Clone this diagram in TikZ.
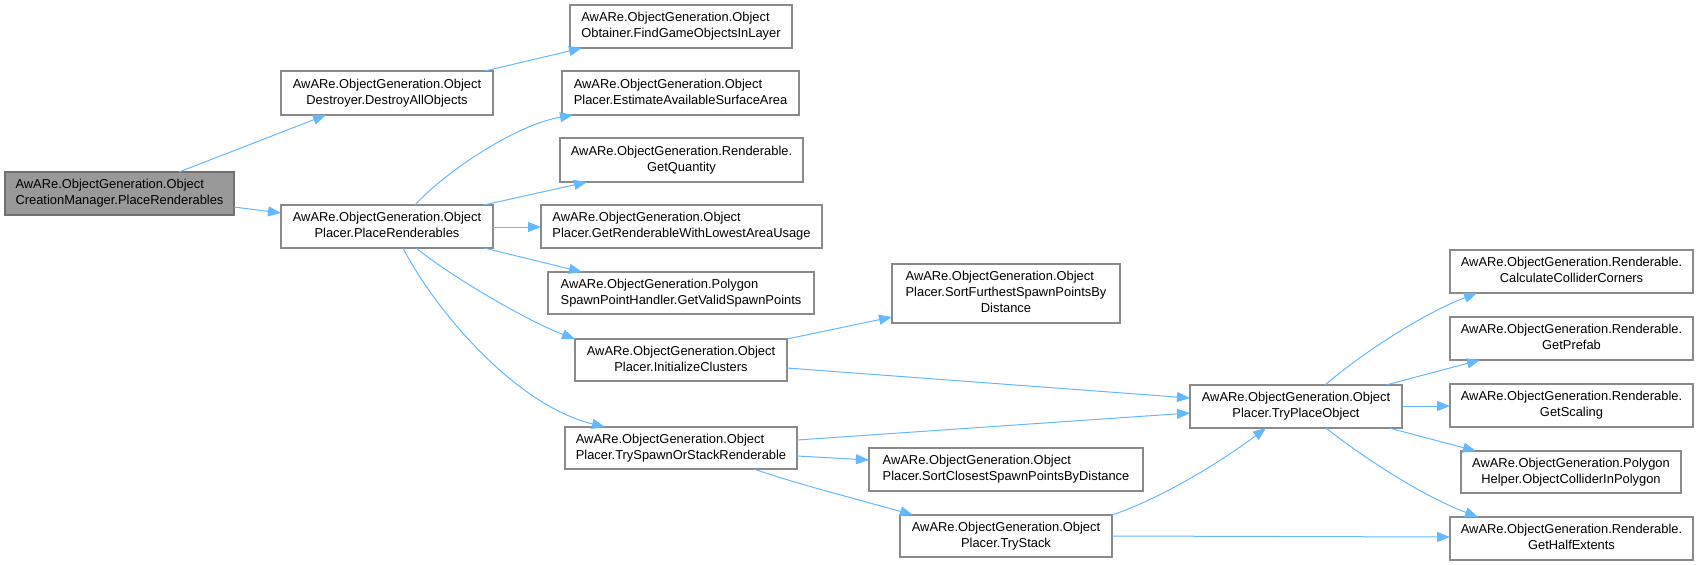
\documentclass[tikz,border=0pt]{standalone}
\usepackage{fontspec}
\setmainfont{Liberation Sans}
\usetikzlibrary{arrows.meta}
\definecolor{edgec}{HTML}{63B8FF}
\definecolor{bord}{HTML}{8A8A8A}
\definecolor{rootfill}{HTML}{999999}
\definecolor{rootbord}{HTML}{707070}
\newcommand{\twol}[2]{\begin{tabular}{@{}l@{}}#1\\\multicolumn{1}{@{}c@{}}{#2}\end{tabular}}
\newcommand{\threel}[3]{\begin{tabular}{@{}l@{}}#1\\#2\\\multicolumn{1}{@{}c@{}}{#3}\end{tabular}}
\newcommand{\bx}[7][]{\node[nbox,#1,minimum width={(#5-#3)*1pt},minimum height={(#6-#4)*1pt}] (#2) at ({(#3+#5)/2},{(#4+#6)/2}) {#7};}
\begin{document}
\begin{tikzpicture}[x=1pt,y=-1pt,
  nbox/.style={rectangle,draw=bord,line width=1.2pt,fill=white,inner sep=0pt,outer sep=0pt,
    font=\fontsize{12.9}{16}\selectfont,text=black},
  rootbox/.style={fill=rootfill,draw=rootbord},
  call/.style={draw=edgec,line width=1pt,-{Triangle[length=13pt,width=10pt]}}]
\useasboundingbox (0,0) rectangle (1698,565);
\bx[rootbox]{root}{5}{172}{234}{215}{\twol{AwARe.ObjectGeneration.Object}{CreationManager.PlaceRenderables}}
\bx{dest}{281}{71}{493}{115}{\twol{AwARe.ObjectGeneration.Object}{Destroyer.DestroyAllObjects}}
\bx{pr}{281}{205}{493}{248}{\twol{AwARe.ObjectGeneration.Object}{Placer.PlaceRenderables}}
\bx{obt}{570}{5}{792}{48}{\twol{AwARe.ObjectGeneration.Object}{Obtainer.FindGameObjectsInLayer}}
\bx{est}{562}{71}{799}{115}{\twol{AwARe.ObjectGeneration.Object}{Placer.EstimateAvailableSurfaceArea}}
\bx{qty}{560}{138}{803}{182}{\twol{AwARe.ObjectGeneration.Renderable.}{GetQuantity}}
\bx{low}{541}{205}{822}{248}{\twol{AwARe.ObjectGeneration.Object}{Placer.GetRenderableWithLowestAreaUsage}}
\bx{spawn}{548}{272}{814}{314}{\twol{AwARe.ObjectGeneration.Polygon}{SpawnPointHandler.GetValidSpawnPoints}}
\bx{init}{575}{339}{787}{381}{\twol{AwARe.ObjectGeneration.Object}{Placer.InitializeClusters}}
\bx{tsos}{565}{427}{797}{469}{\twol{AwARe.ObjectGeneration.Object}{Placer.TrySpawnOrStackRenderable}}
\bx{furth}{892}{264}{1120}{323}{\threel{AwARe.ObjectGeneration.Object}{Placer.SortFurthestSpawnPointsBy}{Distance}}
\bx{closest}{869}{448}{1143}{491}{\twol{AwARe.ObjectGeneration.Object}{Placer.SortClosestSpawnPointsByDistance}}
\bx{stack}{900}{515}{1112}{557}{\twol{AwARe.ObjectGeneration.Object}{Placer.TryStack}}
\bx{tpo}{1190}{385}{1402}{428}{\twol{AwARe.ObjectGeneration.Object}{Placer.TryPlaceObject}}
\bx{corners}{1450}{250}{1693}{293}{\twol{AwARe.ObjectGeneration.Renderable.}{CalculateColliderCorners}}
\bx{prefab}{1450}{317}{1693}{360}{\twol{AwARe.ObjectGeneration.Renderable.}{GetPrefab}}
\bx{scaling}{1450}{384}{1693}{427}{\twol{AwARe.ObjectGeneration.Renderable.}{GetScaling}}
\bx{phelp}{1461}{451}{1681}{493}{\twol{AwARe.ObjectGeneration.Polygon}{Helper.ObjectColliderInPolygon}}
\bx{half}{1450}{517}{1693}{560}{\twol{AwARe.ObjectGeneration.Renderable.}{GetHalfExtents}}
% connectors
\draw[call] ([shift={(174,0)}]root.north west) -- ([shift={(45,44)}]dest.north west);
\draw[call] ([shift={(229,35)}]root.north west) -- ([shift={(0,8)}]pr.north west);
\draw[call] ([shift={(204,0)}]dest.north west) -- ([shift={(12,43)}]obt.north west);
\draw[call] ([shift={(134,0)}]pr.north west) .. controls +(30,-33) and +(-58,10) .. ([shift={(11,44)}]est.north west);
\draw[call] ([shift={(203,0)}]pr.north west) -- ([shift={(27,44)}]qty.north west);
\draw[call] ([shift={(212,22)}]pr.north west) -- ([shift={(0,22)}]low.north west);
\draw[call] ([shift={(203,43)}]pr.north west) -- ([shift={(34,0)}]spawn.north west);
\draw[call] ([shift={(135,43)}]pr.north west) .. controls +(40,32) and +(-45,-17) .. ([shift={(0,0)}]init.north west);
\draw[call] ([shift={(122,43)}]pr.north west) .. controls +(32,62) and +(-90,-22) .. ([shift={(40,0)}]tsos.north west);
\draw[call] ([shift={(212,0)}]init.north west) -- ([shift={(0,53)}]furth.north west);
\draw[call] ([shift={(212,29)}]init.north west) -- ([shift={(0,13)}]tpo.north west);
\draw[call] ([shift={(232,13)}]tsos.north west) -- ([shift={(0,28)}]tpo.north west);
\draw[call] ([shift={(232,29)}]tsos.north west) -- ([shift={(0,12)}]closest.north west);
\draw[call] ([shift={(189,42)}]tsos.north west) .. controls +(36,13) and +(-53,-15) .. ([shift={(13,0)}]stack.north west);
\draw[call] ([shift={(212,0)}]stack.north west) .. controls +(58,-20) and +(-36,27) .. ([shift={(76,43)}]tpo.north west);
\draw[call] ([shift={(212,21)}]stack.north west) -- ([shift={(0,20)}]half.north west);
\draw[call] ([shift={(135,0)}]tpo.north west) .. controls +(35,-30) and +(-57,22) .. ([shift={(27,43)}]corners.north west);
\draw[call] ([shift={(196,0)}]tpo.north west) -- ([shift={(30,43)}]prefab.north west);
\draw[call] ([shift={(212,21)}]tpo.north west) -- ([shift={(0,22)}]scaling.north west);
\draw[call] ([shift={(199,43)}]tpo.north west) -- ([shift={(15,0)}]phelp.north west);
\draw[call] ([shift={(136,43)}]tpo.north west) .. controls +(34,27) and +(-58,-22) .. ([shift={(28,0)}]half.north west);
\end{tikzpicture}
\end{document}
